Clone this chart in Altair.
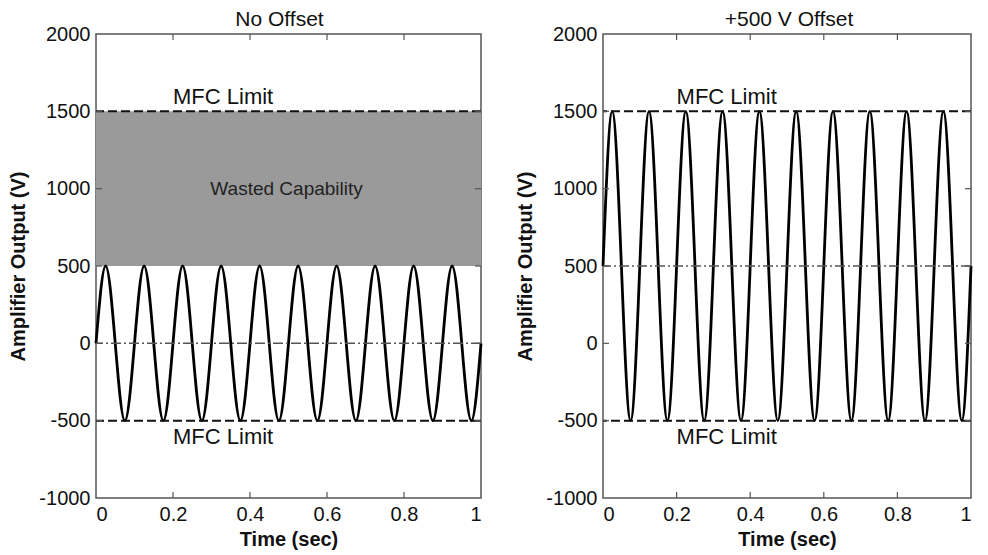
import altair as alt
import pandas as pd

# ---- data ----
time_s = [0.0, 0.025, 0.05, 0.075, 0.1, 0.125, 0.15, 0.175, 0.2, 0.225,
          0.25, 0.275, 0.3, 0.325, 0.35, 0.375, 0.4, 0.425, 0.45, 0.475,
          0.5, 0.525, 0.55, 0.575, 0.6, 0.625, 0.65, 0.675, 0.7, 0.725,
          0.75, 0.775, 0.8, 0.825, 0.85, 0.875, 0.9, 0.925, 0.95, 0.975, 1.0]
wave_no_offset = [0, 500, 0, -500, 0, 500, 0, -500, 0, 500,
                  0, -500, 0, 500, 0, -500, 0, 500, 0, -500,
                  0, 500, 0, -500, 0, 500, 0, -500, 0, 500,
                  0, -500, 0, 500, 0, -500, 0, 500, 0, -500, 0]
wave_offset = [500, 1500, 500, -500, 500, 1500, 500, -500, 500, 1500,
               500, -500, 500, 1500, 500, -500, 500, 1500, 500, -500,
               500, 1500, 500, -500, 500, 1500, 500, -500, 500, 1500,
               500, -500, 500, 1500, 500, -500, 500, 1500, 500, -500, 500]
mfc_limits = [1500, -500]
center_no_offset = [0]
center_offset = [500]
wasted_band = [500, 1500]
x_ticks = [0, 0.2, 0.4, 0.6, 0.8, 1.0]
y_ticks = [-1000, -500, 0, 500, 1000, 1500, 2000]
x_inner = [0.2, 0.4, 0.6, 0.8]
y_inner = [-500, 0, 500, 1000, 1500]
titles = ["No Offset", "+500 V Offset"]
label_upper = [0.2, 1593]
label_lower = [0.2, -606]
wasted_label = [0.495, 1000]

FONT = "Liberation Sans"
H = 464

Y_LABELS = "datum.value < 0 ? '-' + format(-datum.value, 'd') : format(datum.value, 'd')"


def X(field="t"):
    return alt.X(f"{field}:Q", scale=alt.Scale(domain=[0, 1], nice=False, zero=False),
                 axis=alt.Axis(values=x_ticks, format="~g", labelPadding=6, titlePadding=5),
                 title="Time (sec)")


def Y(field="v"):
    return alt.Y(f"{field}:Q", scale=alt.Scale(domain=[-1000, 2000], nice=False, zero=False),
                 axis=alt.Axis(values=y_ticks, labelExpr=Y_LABELS, labelPadding=6, titlePadding=10),
                 title="Amplifier Output (V)")


def panel(wave, center, idx, W, title_dx, band=True):
    layers = []
    if band:
        band_df = pd.DataFrame({"t": [0.0], "t2": [1.0], "v": [wasted_band[0]], "v2": [wasted_band[1]]})
        layers.append(alt.Chart(band_df).mark_rect(color="#9a9a9a").encode(
            x=X(), x2="t2:Q", y=Y(), y2="v2:Q"))
    wave_df = pd.DataFrame({"t": time_s, "v": wave})
    layers.append(alt.Chart(wave_df).mark_line(color="#000000", strokeWidth=2.8,
                                                interpolate="natural").encode(x=X(), y=Y()))
    layers.append(alt.Chart(pd.DataFrame({"v": mfc_limits})).mark_rule(
        color="#111111", strokeWidth=2, strokeDash=[9, 4]).encode(y=Y()))
    layers.append(alt.Chart(pd.DataFrame({"v": center})).mark_rule(
        color="#555555", strokeWidth=1.5, strokeDash=[10, 3, 2, 3]).encode(y=Y()))
    lab_df = pd.DataFrame({"t": [label_upper[0], label_lower[0]],
                           "v": [label_upper[1], label_lower[1]],
                           "s": ["MFC Limit", "MFC Limit"]})
    layers.append(alt.Chart(lab_df).mark_text(font=FONT, fontSize=22, align="left",
                                              baseline="middle", color="#111111").encode(
        x=X(), y=Y(), text="s:N"))
    if band:
        w_df = pd.DataFrame({"t": [wasted_label[0]], "v": [wasted_label[1]], "s": ["Wasted Capability"]})
        layers.append(alt.Chart(w_df).mark_text(font=FONT, fontSize=19, align="center",
                                                baseline="middle", color="#222222").encode(
            x=X(), y=Y(), text="s:N"))
    # inward tick marks (MATLAB style)
    yi = pd.DataFrame({"v": y_inner})
    xi = pd.DataFrame({"t": x_inner})
    tick_style = dict(color="#555555", strokeWidth=1.2)
    layers.append(alt.Chart(yi).mark_rule(**tick_style).encode(
        y=Y(), x=alt.value(0), x2=alt.value(6)))
    layers.append(alt.Chart(yi).mark_rule(**tick_style).encode(
        y=Y(), x=alt.value(W), x2=alt.value(W - 6)))
    layers.append(alt.Chart(xi).mark_rule(**tick_style).encode(
        x=X(), y=alt.value(0), y2=alt.value(6)))
    layers.append(alt.Chart(xi).mark_rule(**tick_style).encode(
        x=X(), y=alt.value(H), y2=alt.value(H - 6)))
    return alt.layer(*layers).properties(
        width=W, height=H,
        title=alt.TitleParams(titles[idx], font=FONT, fontSize=21,
                              fontWeight="normal", color="#111111", anchor="middle",
                              frame="group", offset=-6, dx=title_dx))


left = panel(wave_no_offset, center_no_offset, 0, 385, -9, band=True)
right = panel(wave_offset, center_offset, 1, 368, 2, band=False)

chart = alt.hconcat(left, right, spacing=27).properties(
    padding={"left": 0, "top": 0, "right": 0, "bottom": 0}
).configure_axis(
    labelFont=FONT, labelFontSize=20, labelColor="#111111",
    titleFont=FONT, titleFontSize=20, titleFontWeight="bold", titleColor="#111111",
    ticks=False, domain=False, grid=False
).configure_view(
    stroke="#555555", strokeWidth=1.5
)

chart.save("out.html", embed_options={"renderer": "svg", "actions": False})
